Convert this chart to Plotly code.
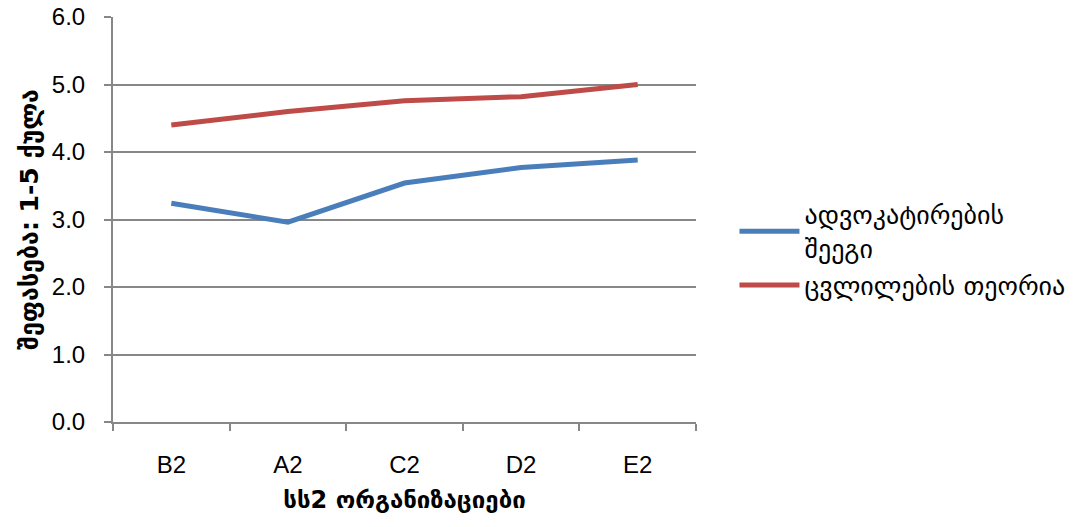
import plotly.graph_objects as go

categories = ["B2", "A2", "C2", "D2", "E2"]
advocacy = [3.24, 2.96, 3.54, 3.77, 3.88]
theory = [4.40, 4.60, 4.76, 4.82, 5.00]
series_names = ["ადვოკატირების<br>შეეგი", "ცვლილების თეორია"]
y_ticks = [0, 1, 2, 3, 4, 5, 6]
y_tick_text = ["0.0", "1.0", "2.0", "3.0", "4.0", "5.0", "6.0"]

FONT = "Liberation Sans"
GEO = "DejaVu Sans"

fig = go.Figure()
fig.add_trace(go.Scatter(x=categories, y=advocacy, mode="lines", name=series_names[0],
                         line=dict(color="#4A7EBB", width=5)))
fig.add_trace(go.Scatter(x=categories, y=theory, mode="lines", name=series_names[1],
                         line=dict(color="#BE4B48", width=5)))

fig.update_layout(
    width=1084, height=527,
    margin=dict(l=113, r=388, t=17, b=105, autoexpand=False),
    paper_bgcolor="white", plot_bgcolor="white",
    font=dict(family=FONT, size=21, color="#000000"),
    legend=dict(x=1.066, y=0.425, xanchor="left", yanchor="middle",
                font=dict(size=26, family=GEO),
                tracegroupgap=18, itemwidth=60),
    showlegend=True,
)
fig.update_xaxes(
    type="category", range=[-0.5, 4.5], automargin=False,
    showline=True, linecolor="#878787", linewidth=2,
    ticks="outside", tickson="boundaries", ticklen=7, tickcolor="#878787", tickwidth=2,
    ticklabelstandoff=20,
    showgrid=False,
    tickfont=dict(size=24, family=FONT),
    title=dict(text="<b>სს2 ორგანიზაციები</b>", font=dict(size=24, family=GEO), standoff=14),
)
fig.update_yaxes(
    range=[0, 6], tickvals=y_ticks, ticktext=y_tick_text, automargin=False,
    showline=True, linecolor="#878787", linewidth=2,
    ticks="outside", ticklen=7, tickcolor="#878787", tickwidth=2,
    ticklabelstandoff=14,
    showgrid=True, gridcolor="#878787", gridwidth=2,
    zeroline=False,
    tickfont=dict(size=24, family=FONT),
    title=dict(text="<b>შეფასება: 1-5 ქულა</b>", font=dict(size=25, family=GEO), standoff=6),
)

fig.write_html("out.html", config={"displayModeBar": False},
               post_script="document.body.style.margin='0';")
